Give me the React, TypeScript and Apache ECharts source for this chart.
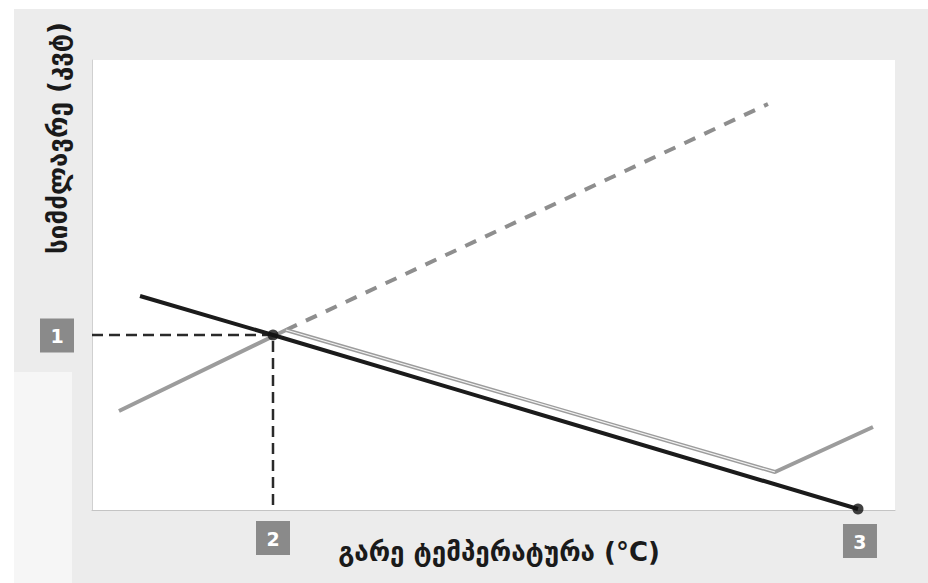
import React, { useEffect, useRef } from "react";
import * as echarts from "echarts";

// values in abstract units (x: 0..100 outdoor temperature, y: 0..100 power)
const heatLoadLine: number[][] = [[5.98, 47.56], [22.54, 38.89], [95.39, 0.22]];
const heatLoadDots: number[][] = [[22.54, 38.89], [95.39, 0.22]];
const pumpCapacity: number[][] = [[3.36, 22.0], [24.16, 40.0], [85.06, 8.44], [97.26, 18.44]];
const pumpCapacityInner: number[][] = [[24.16, 40.0], [85.06, 8.44]];
const pumpExtrapolated: number[][] = [[24.16, 40.0], [84.18, 90.22]];
const balanceGuide: number[][] = [[0, 38.89], [22.54, 38.89], [22.54, 0]];
const markerLabels: string[] = ["1", "2", "3"];
const yTitle = "სიმძლავრე (კვტ)";
const xTitle = "გარე ტემპერატურა (°C)";

const FONT = "'DejaVu Sans', sans-serif";

export default function App() {
  const ref = useRef<HTMLDivElement>(null);
  useEffect(() => {
    if (!ref.current) return;
    const chart = echarts.init(ref.current, undefined, { renderer: "svg" });
    chart.setOption({
      animation: false,
      backgroundColor: "#ececec",
      grid: {
        left: 92,
        right: 33,
        top: 60,
        bottom: 73,
        show: true,
        backgroundColor: "#ffffff",
        borderWidth: 0,
      },
      xAxis: {
        type: "value",
        min: 0,
        max: 100,
        axisLine: { show: true, lineStyle: { color: "#c4c4c4", width: 1 } },
        axisTick: { show: false },
        axisLabel: { show: false },
        splitLine: { show: false },
      },
      yAxis: {
        type: "value",
        min: 0,
        max: 100,
        axisLine: { show: true, lineStyle: { color: "#d0d0d0", width: 1 } },
        axisTick: { show: false },
        axisLabel: { show: false },
        splitLine: { show: false },
      },
      series: [
        {
          type: "line",
          data: balanceGuide,
          symbol: "none",
          lineStyle: { color: "#2a2a2a", width: 2.5, type: [11, 6] },
          z: 2,
        },
        {
          type: "line",
          data: pumpExtrapolated,
          symbol: "none",
          lineStyle: { color: "#8e8e8e", width: 4, type: [12, 10] },
          z: 2,
        },
        {
          type: "line",
          data: pumpCapacity,
          symbol: "none",
          lineStyle: { color: "#9c9c9c", width: 4 },
          z: 3,
        },
        {
          type: "line",
          data: pumpCapacityInner,
          symbol: "none",
          lineStyle: { color: "#f2f2f2", width: 1.2 },
          z: 3,
        },
        {
          type: "line",
          data: heatLoadLine,
          symbol: "none",
          lineStyle: { color: "#1b1b1b", width: 4 },
          z: 4,
        },
        {
          type: "scatter",
          data: heatLoadDots,
          symbol: "circle",
          symbolSize: 11,
          itemStyle: { color: "#111111" },
          z: 5,
        },
      ],
    });

    const p1 = chart.convertToPixel({ gridIndex: 0 }, [0, balanceGuide[0][1]]) as number[];
    const p2 = chart.convertToPixel({ gridIndex: 0 }, [balanceGuide[1][0], 0]) as number[];
    const p3 = chart.convertToPixel({ gridIndex: 0 }, [heatLoadDots[1][0], 0]) as number[];
    const boxes = [
      { cx: p1[0] - 35, cy: p1[1] + 0.5 },
      { cx: p2[0], cy: p2[1] + 28 },
      { cx: p3[0] + 2, cy: p3[1] + 31 },
    ];

    chart.setOption({
      graphic: [
        { type: "rect", silent: true, z: -1, shape: { x: 0, y: 0, width: 928, height: 9 }, style: { fill: "#ffffff" } },
        { type: "rect", silent: true, z: -1, shape: { x: 0, y: 0, width: 14, height: 583 }, style: { fill: "#ffffff" } },
        { type: "rect", silent: true, z: -1, shape: { x: 14, y: 372, width: 58, height: 211 }, style: { fill: "#f6f6f6" } },
        ...boxes.map((b, i) => ({
          type: "group",
          x: b.cx,
          y: b.cy,
          children: [
            {
              type: "rect",
              shape: { x: -17, y: -17, width: 34, height: 34 },
              style: { fill: "#8a8a8a" },
            },
            {
              type: "text",
              x: 0,
              y: 1,
              style: {
                text: markerLabels[i],
                fill: "#ffffff",
                font: `bold 19px ${FONT}`,
                align: "center",
                verticalAlign: "middle",
              },
            },
          ],
        })),
        {
          type: "text",
          x: 58,
          y: 138,
          rotation: Math.PI / 2,
          style: {
            text: yTitle,
            fill: "#1a1a1a",
            font: `bold 26px ${FONT}`,
            align: "center",
            verticalAlign: "middle",
          },
        },
        {
          type: "text",
          x: 499,
          y: 552,
          style: {
            text: xTitle,
            fill: "#1a1a1a",
            font: `bold 26px ${FONT}`,
            align: "center",
            verticalAlign: "middle",
          },
        },
      ],
    });

    return () => chart.dispose();
  }, []);
  return <div ref={ref} style={{ position: "fixed", left: 0, top: 0, width: 928, height: 583 }} />;
}
